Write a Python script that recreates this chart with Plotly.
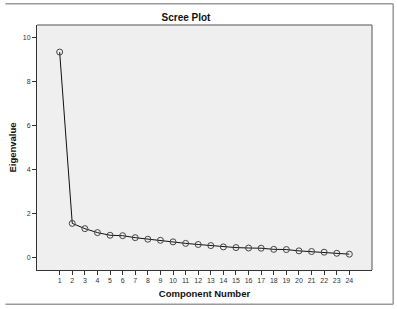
import plotly.graph_objects as go

components = list(range(1, 25))
eigenvalues = [9.34, 1.55, 1.31, 1.13, 1.01, 0.99, 0.90, 0.83, 0.78, 0.71, 0.64, 0.59,
               0.54, 0.48, 0.45, 0.43, 0.42, 0.37, 0.36, 0.30, 0.27, 0.24, 0.19, 0.15]
y_ticks = [0, 2, 4, 6, 8, 10]

W, H = 397, 309
L, R, T, B = 32, 25, 25, 37
pw, ph = W - L - R, H - T - B

def px_x(px):
    return (px - L) / pw

def px_y(py):
    return (H - B - py) / ph

fig = go.Figure()
fig.add_trace(go.Scatter(
    x=components, y=eigenvalues, mode="lines+markers",
    line=dict(color="#111111", width=1),
    marker=dict(symbol="circle-open", size=6, color="#444444", line=dict(width=1)),
    showlegend=False, cliponaxis=False,
))

font = "Liberation Sans, Arial, sans-serif"
fig.update_layout(
    width=W, height=H,
    margin=dict(l=L, r=R, t=T, b=B),
    paper_bgcolor="white", plot_bgcolor="#efefef",
    title=dict(text="<b>Scree Plot</b>", x=186 / W, xanchor="center",
               y=1 - 17.5 / H, yanchor="middle",
               font=dict(family=font, size=10, color="#111111")),
    xaxis=dict(range=[-0.8, 25.8], tickvals=components, ticktext=[str(c) for c in components],
               showgrid=False, zeroline=False, showline=True, linecolor="#333333", linewidth=1,
               ticks="outside", ticklen=4, tickcolor="#333333",
               tickfont=dict(family=font, size=7, color="#333333"),
               title=dict(text="<b>Component Number</b>", standoff=6,
                          font=dict(family=font, size=9.5, color="#111111"))),
    yaxis=dict(range=[-0.57, 10.57], tickvals=y_ticks, ticktext=[str(v) for v in y_ticks],
               showgrid=False, zeroline=False, showline=True, linecolor="#333333", linewidth=1,
               ticks="outside", ticklen=4, tickcolor="#333333",
               tickfont=dict(family=font, size=7, color="#333333"),
               title=dict(text="<b>Eigenvalue</b>", standoff=4,
                          font=dict(family=font, size=9.5, color="#111111"))),
    shapes=[
        # plot frame top and right (gray)
        dict(type="line", xref="paper", yref="paper", x0=0, x1=1, y0=1, y1=1,
             line=dict(color="#8a8a8a", width=1.5)),
        dict(type="line", xref="paper", yref="paper", x0=1, x1=1, y0=0, y1=1,
             line=dict(color="#8a8a8a", width=1.5)),
        # outer chart frame
        dict(type="line", xref="paper", yref="paper", x0=px_x(0), x1=px_x(393.5),
             y0=px_y(3.5), y1=px_y(3.5), line=dict(color="#999999", width=1.5)),
        dict(type="line", xref="paper", yref="paper", x0=px_x(393.5), x1=px_x(393.5),
             y0=px_y(3.5), y1=px_y(306.5), line=dict(color="#999999", width=1.5)),
        dict(type="line", xref="paper", yref="paper", x0=px_x(0), x1=px_x(393.5),
             y0=px_y(306.5), y1=px_y(306.5), line=dict(color="#999999", width=1.5)),
    ],
)

fig.write_html("out.html")
